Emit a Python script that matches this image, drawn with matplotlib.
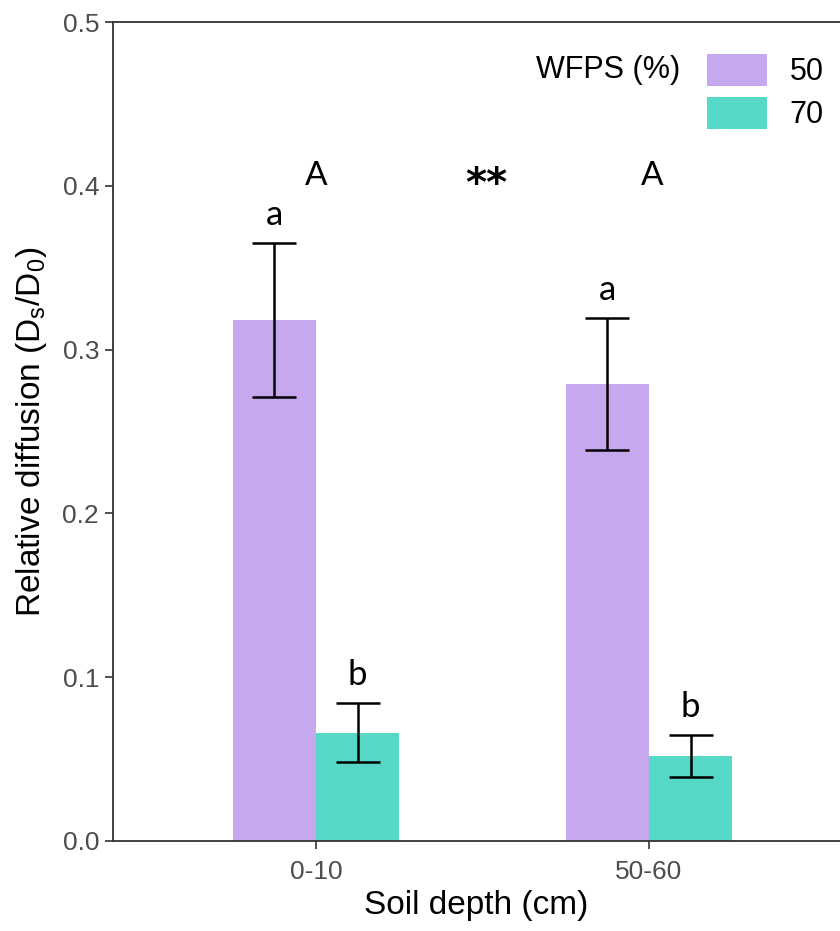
import numpy as np
import matplotlib
matplotlib.use("Agg")
import matplotlib.pyplot as plt
from matplotlib.patches import Patch

plt.rcParams['font.family'] = ['Liberation Sans', 'DejaVu Sans']
plt.rcParams['mathtext.fontset'] = 'custom'
plt.rcParams['mathtext.rm'] = 'Liberation Sans'

# data
depths = ["0-10", "50-60"]
wfps_levels = ["50", "70"]
mean_50 = [0.318, 0.279]
err_50 = [0.047, 0.040]
mean_70 = [0.066, 0.052]
err_70 = [0.018, 0.013]
letters_50 = ["a", "a"]
letters_70 = ["b", "b"]
depth_letters = ["A", "A"]
depth_sig = "**"

colors = ["#c5a8ee", "#55d8c6"]
ann_font = ['Lato', 'DejaVu Sans']

fig = plt.figure(figsize=(8.4, 9.31), dpi=100)
ax = fig.add_axes([113 / 840, 90 / 931, 1 - 113 / 840, 819 / 931])

x = np.arange(1, len(depths) + 1)
w = 0.25
ax.bar(x - w / 2, mean_50, width=w, color=colors[0], label=wfps_levels[0], zorder=2)
ax.bar(x + w / 2, mean_70, width=w, color=colors[1], label=wfps_levels[1], zorder=2)
ax.errorbar(x - w / 2, mean_50, yerr=err_50, fmt='none', ecolor='black',
            elinewidth=1.8, capsize=16, capthick=1.8, zorder=3)
ax.errorbar(x + w / 2, mean_70, yerr=err_70, fmt='none', ecolor='black',
            elinewidth=1.8, capsize=16, capthick=1.8, zorder=3)

# letters above error bars
for i in range(len(depths)):
    ax.text(x[i] - w / 2, mean_50[i] + err_50[i] + 0.011, letters_50[i],
            ha='center', va='baseline', fontsize=25, family=ann_font)
    ax.text(x[i] + w / 2, mean_70[i] + err_70[i] + 0.011, letters_70[i],
            ha='center', va='baseline', fontsize=25, family=ann_font)
    ax.text(x[i] + 0.01 * i, 0.4005, depth_letters[i], ha='center', va='baseline',
            fontsize=24, family=ann_font)
ax.text(x.mean() + 0.01, 0.394, depth_sig, ha='center', va='baseline',
        fontsize=29, fontweight='bold', family=['DejaVu Sans'])

ax.set_xlim(0.39, 2.574)
ax.set_ylim(0, 0.5)
ax.set_xticks(x)
ax.set_xticklabels(depths)
ax.set_yticks(np.arange(0, 0.51, 0.1))
ax.set_yticklabels([f"{v:.1f}" for v in np.arange(0, 0.51, 0.1)])
ax.tick_params(axis='both', colors='#333333', labelcolor='#4d4d4d',
               labelsize=19, length=6, width=1.2)
ax.tick_params(axis='x', pad=8)
ax.tick_params(axis='y', pad=4)

for s in ['left', 'bottom', 'top']:
    ax.spines[s].set_color('#333333')
    ax.spines[s].set_linewidth(1.3)
ax.spines['right'].set_visible(False)

ax.set_xlabel("Soil depth (cm)", fontsize=24, labelpad=4)
ax.set_ylabel(r"Relative diffusion (D$_\mathregular{s}$/D$_\mathregular{0}$)",
              fontsize=24, labelpad=10)

handles = [Patch(facecolor=c) for c in colors]
leg = ax.legend(handles, wfps_levels, loc='upper left', bbox_to_anchor=(0.817, 0.961),
                frameon=False, fontsize=22, handlelength=1.95, handleheight=1.25,
                handletextpad=0.75, labelspacing=0.3, borderpad=0, borderaxespad=0)
ax.text(0.681, 0.941, "WFPS (%)", transform=ax.transAxes, ha='center', va='center',
        fontsize=22)

fig.savefig("out.png", dpi=100)
